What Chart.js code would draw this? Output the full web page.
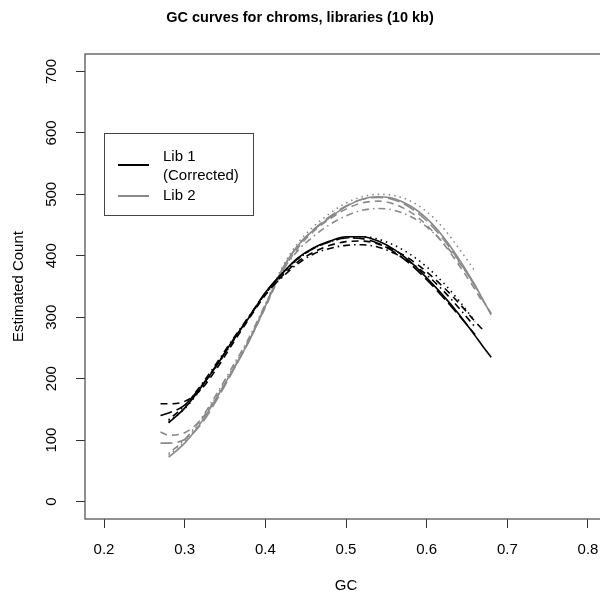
<!DOCTYPE html>
<html>
<head>
<meta charset="utf-8">
<title>GC curves</title>
<script src="https://cdn.jsdelivr.net/npm/chart.js@4/dist/chart.umd.min.js"></script>
<style>
  html, body { margin: 0; padding: 0; background: #fff; overflow: hidden; }
</style>
</head>
<body>
<canvas id="gcChart" width="620" height="597"></canvas>
<script>
// GC grid shared by every curve (null = curve not drawn there)
const gcValues = [0.27, 0.28, 0.30, 0.32, 0.34, 0.36, 0.38, 0.40, 0.42, 0.44, 0.46, 0.48,
                  0.50, 0.52, 0.54, 0.56, 0.58, 0.60, 0.62, 0.64, 0.66, 0.67, 0.68];

// Lib 1 (Corrected) - one curve per chrom
const lib1Solid    = [null, 128, 152, 185, 222, 263, 300, 340, 370, 396, 413, 424, 431, 431, 424, 410, 390, 364, 336, 305, 270, 252, 235];
const lib1Dashed   = [159, 159, 163, 182, 217, 258, 298, 336, 366, 390, 406, 417, 423, 424, 419, 409, 394, 374, 350, 323, 293, 279, null];
const lib1LongDash = [140, 144, 157, 187, 223, 262, 301, 340, 370, 395, 412, 423, 429, 428, 420, 406, 386, 361, 333, 303, 272, null, null];
const lib1Dotted   = [null, 130, 151, 183, 221, 261, 300, 338, 368, 394, 412, 423, 429, 431, 427, 417, 402, 382, 357, 327, 293, null, null];
const lib1DotDash  = [null, 133, 156, 189, 226, 265, 302, 338, 364, 387, 403, 412, 417, 418, 414, 404, 389, 369, 344, 315, 284, null, null];

// Lib 2
const lib2Solid    = [null, 72, 95, 128, 170, 215, 262, 318, 376, 416, 442, 462, 480, 492, 496, 493, 481, 461, 432, 395, 352, 328, 304];
const lib2Dashed   = [113, 108, 112, 133, 170, 214, 262, 316, 372, 412, 440, 460, 476, 486, 489, 484, 471, 450, 421, 385, 345, 323, null];
const lib2LongDash = [95, 95, 101, 125, 166, 213, 262, 318, 376, 416, 443, 464, 481, 492, 495, 491, 478, 457, 428, 392, 350, 327, 306];
const lib2Dotted   = [null, 75, 98, 131, 173, 218, 265, 321, 379, 420, 448, 469, 486, 496, 500, 498, 489, 472, 446, 412, 375, null, null];
const lib2DotDash  = [null, 78, 101, 134, 176, 221, 267, 321, 373, 408, 432, 451, 465, 474, 477, 474, 464, 447, 422, 390, 352, null, null];

const xTicks = [0.2, 0.3, 0.4, 0.5, 0.6, 0.7, 0.8];
const yTicks = [0, 100, 200, 300, 400, 500, 600, 700];

const legendLabels = ['Lib 1', '(Corrected)', 'Lib 2'];
const titleText = 'GC curves for chroms, libraries (10 kb)';

const FONT = "'Liberation Sans', Arial, Helvetica, sans-serif";
const LIB1_COLOR = '#000000';
const LIB2_COLOR = '#8a8a8a';

const dashStyles = {
    solid: [],
    dashed: [7, 5],
    dotted: [1.5, 4],
    dotdash: [1.5, 4, 7, 4],
    longdash: [12, 5]
};

function toPoints(values) {
    return gcValues.map((gc, i) => ({ x: gc, y: values[i] }));
}

function curve(values, color, dash) {
    return {
        data: toPoints(values),
        borderColor: color,
        borderWidth: 1.6,
        borderDash: dashStyles[dash],
        pointRadius: 0,
        showLine: true,
        fill: false,
        spanGaps: false,
        cubicInterpolationMode: 'monotone'
    };
}

// Box, rotated y labels, title and legend
const decorPlugin = {
    id: 'decor',
    afterDraw(chart) {
        const ctx = chart.ctx;
        const area = chart.chartArea;
        const yScale = chart.scales.y;
        ctx.save();

        // plot box
        ctx.strokeStyle = '#555';
        ctx.lineWidth = 1.3;
        ctx.strokeRect(area.left, area.top, area.right - area.left, area.bottom - area.top);

        // y tick labels, rotated like R's default
        ctx.fillStyle = '#000';
        ctx.font = '15px ' + FONT;
        ctx.textAlign = 'center';
        ctx.textBaseline = 'middle';
        yTicks.forEach(v => {
            const py = yScale.getPixelForValue(v);
            ctx.save();
            ctx.translate(52, py);
            ctx.rotate(-Math.PI / 2);
            ctx.fillText(String(v), 0, 0);
            ctx.restore();
        });

        // title
        ctx.font = 'bold 14.5px ' + FONT;
        ctx.fillText(titleText, 300, 18);

        // legend
        ctx.strokeStyle = '#444';
        ctx.lineWidth = 1;
        ctx.setLineDash([]);
        ctx.strokeRect(104.5, 133.5, 149, 82);

        ctx.lineWidth = 2;
        ctx.strokeStyle = LIB1_COLOR;
        ctx.beginPath();
        ctx.moveTo(118, 165);
        ctx.lineTo(149, 165);
        ctx.stroke();

        ctx.strokeStyle = LIB2_COLOR;
        ctx.beginPath();
        ctx.moveTo(118, 196);
        ctx.lineTo(149, 196);
        ctx.stroke();

        ctx.font = '15px ' + FONT;
        ctx.textAlign = 'left';
        ctx.fillStyle = '#000';
        ctx.fillText(legendLabels[0], 163, 157);
        ctx.fillText(legendLabels[1], 163, 176);
        ctx.fillText(legendLabels[2], 163, 196);

        ctx.restore();
    }
};

Chart.defaults.font.family = FONT;

const ctx = document.getElementById('gcChart').getContext('2d');
new Chart(ctx, {
    type: 'scatter',
    data: {
        datasets: [
            curve(lib1Solid, LIB1_COLOR, 'solid'),
            curve(lib1Dashed, LIB1_COLOR, 'dashed'),
            curve(lib1Dotted, LIB1_COLOR, 'dotted'),
            curve(lib1DotDash, LIB1_COLOR, 'dotdash'),
            curve(lib1LongDash, LIB1_COLOR, 'longdash'),
            curve(lib2Solid, LIB2_COLOR, 'solid'),
            curve(lib2Dashed, LIB2_COLOR, 'dashed'),
            curve(lib2Dotted, LIB2_COLOR, 'dotted'),
            curve(lib2DotDash, LIB2_COLOR, 'dotdash'),
            curve(lib2LongDash, LIB2_COLOR, 'longdash')
        ]
    },
    options: {
        responsive: false,
        animation: false,
        layout: { padding: { top: 54, right: 13, left: 0, bottom: 0 } },
        plugins: {
            legend: { display: false },
            tooltip: { enabled: false },
            title: { display: false }
        },
        scales: {
            x: {
                type: 'linear',
                position: 'bottom',
                min: 0.1764,
                max: 0.8236,
                afterBuildTicks: scale => { scale.ticks = xTicks.map(v => ({ value: v })); },
                afterFit: scale => { scale.height = 78; },
                border: { display: false },
                grid: { drawOnChartArea: false, drawTicks: true, tickLength: 9, tickColor: '#333', lineWidth: 1 },
                ticks: {
                    color: '#000',
                    font: { size: 15 },
                    padding: 13,
                    maxRotation: 0,
                    autoSkip: false,
                    callback: v => Number(v).toFixed(1)
                },
                title: { display: true, text: 'GC', color: '#000', font: { size: 15 }, padding: { top: 0, bottom: 2 } }
            },
            y: {
                type: 'linear',
                position: 'left',
                min: -28.5,
                max: 728.5,
                afterBuildTicks: scale => { scale.ticks = yTicks.map(v => ({ value: v })); },
                afterFit: scale => { scale.width = 85; },
                border: { display: false },
                grid: { drawOnChartArea: false, drawTicks: true, tickLength: 9, tickColor: '#333', lineWidth: 1 },
                ticks: { display: false },
                title: { display: true, text: 'Estimated Count', color: '#000', font: { size: 15 }, padding: { top: 9.5, bottom: 0 } }
            }
        }
    },
    plugins: [decorPlugin]
});
</script>
</body>
</html>
